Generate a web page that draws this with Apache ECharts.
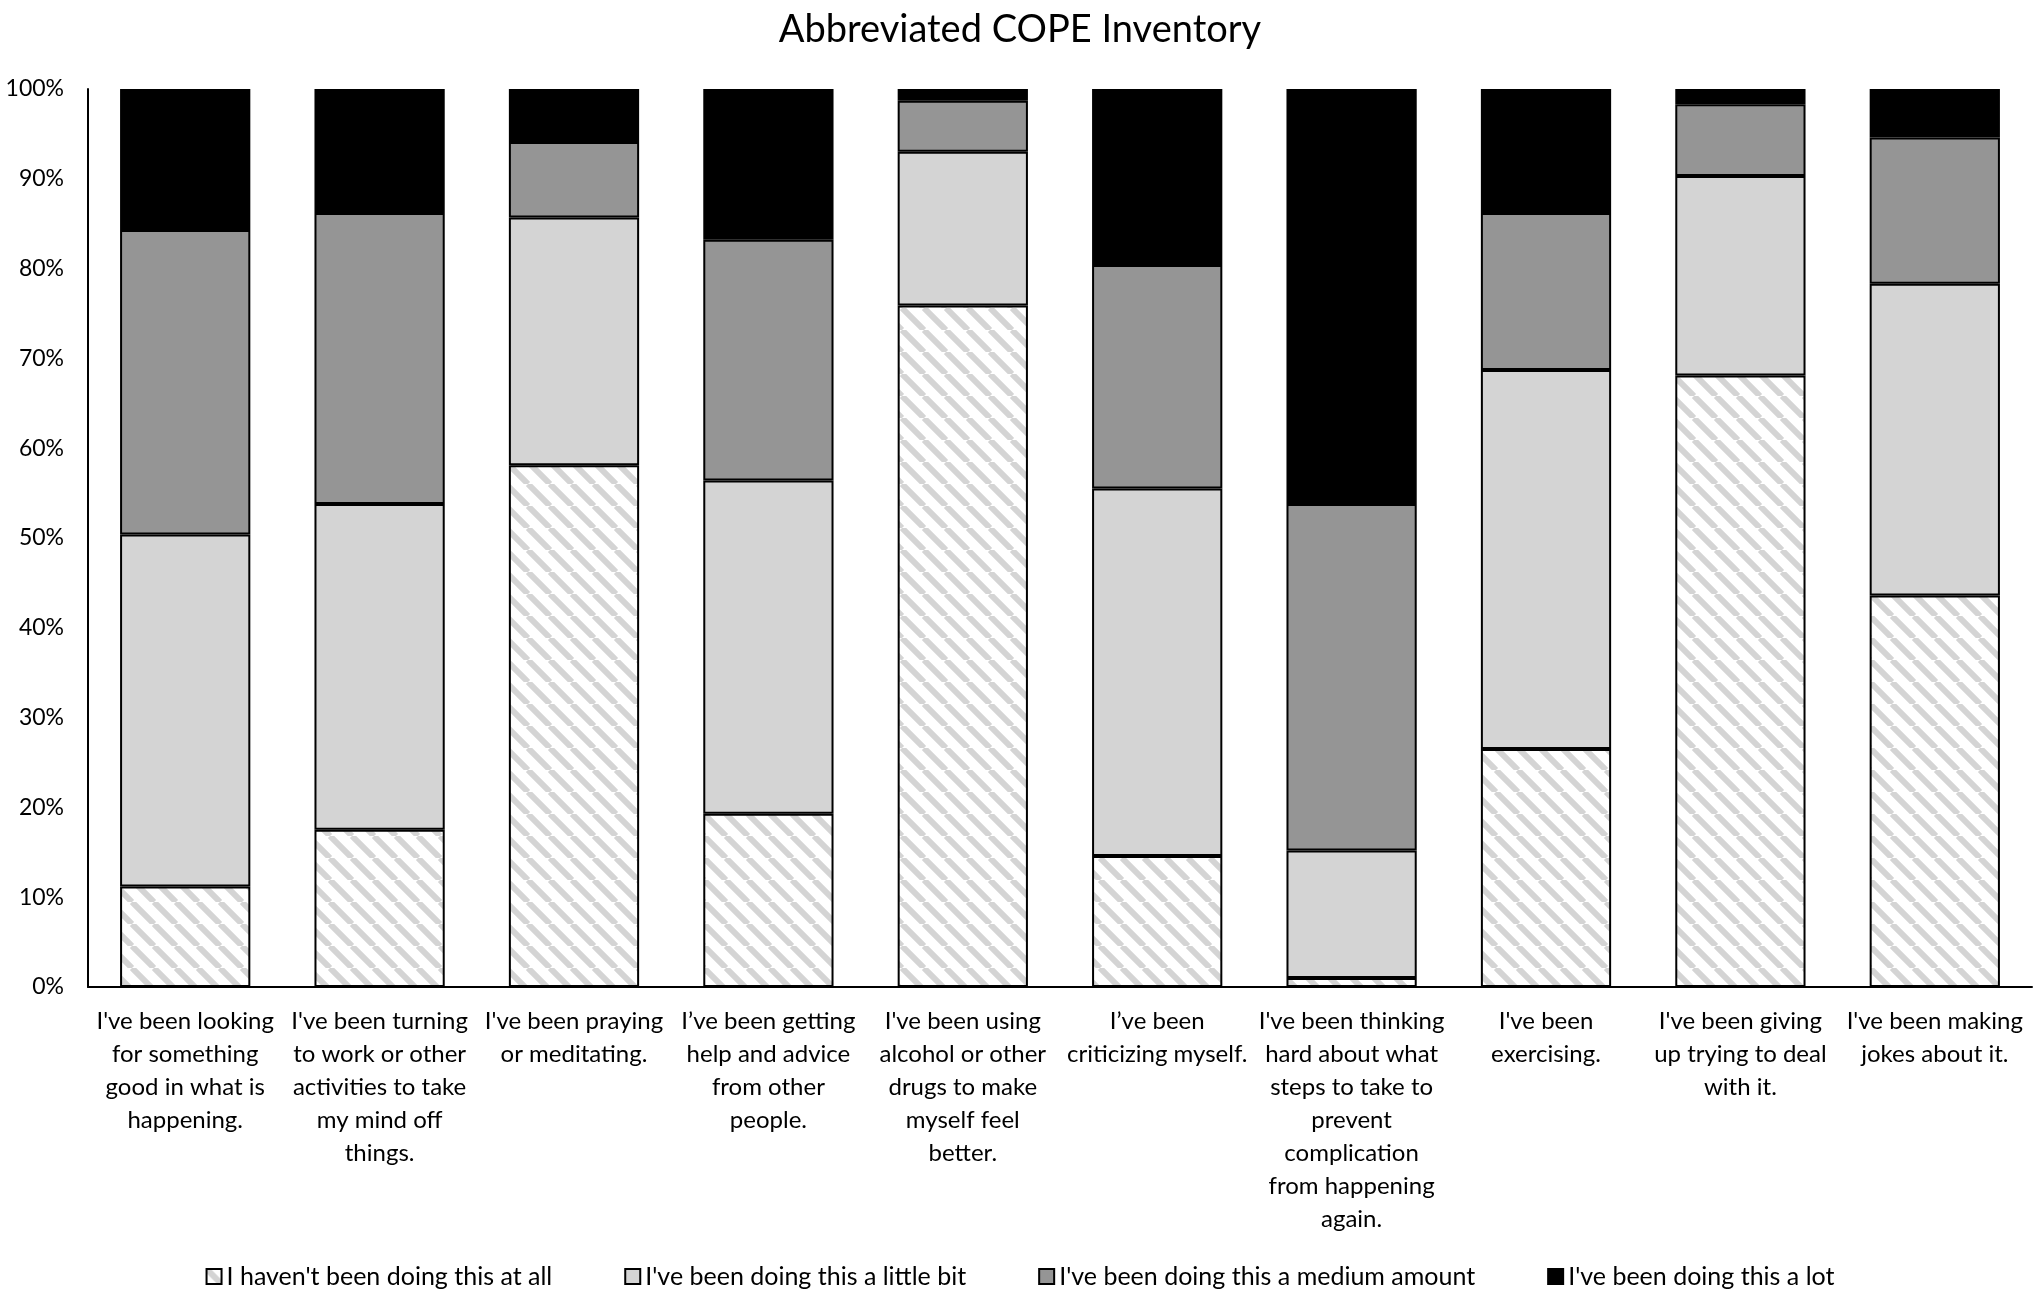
<!DOCTYPE html>
<html>
<head>
<meta charset="utf-8">
<script src="https://cdn.jsdelivr.net/npm/echarts@6/dist/echarts.min.js"></script>
<style>
  html, body { margin: 0; padding: 0; background: #fff; }
  #chart { width: 2040px; height: 1296px; }
</style>
</head>
<body>
<div id="chart"></div>
<script>
// categories (x labels, wrapped like the original)
const categories = [
  "I've been looking\nfor something\ngood in what is\nhappening.",
  "I've been turning\nto work or other\nactivities to take\nmy mind off\nthings.",
  "I've been praying\nor meditating.",
  "I’ve been getting\nhelp and advice\nfrom other\npeople.",
  "I've been using\nalcohol or other\ndrugs to make\nmyself feel\nbetter.",
  "I’ve been\ncriticizing myself.",
  "I've been thinking\nhard about what\nsteps to take to\nprevent\ncomplication\nfrom happening\nagain.",
  "I've been\nexercising.",
  "I've been giving\nup trying to deal\nwith it.",
  "I've been making\njokes about it."
];

const seriesNames = [
  "I haven't been doing this at all",
  "I've been doing this a little bit",
  "I've been doing this a medium amount",
  "I've been doing this a lot"
];

// percentages
const notAtAll   = [11.2, 17.5, 58.1, 19.3, 75.9, 14.6,  1.0, 26.5, 68.1, 43.6];
const littleBit  = [39.2, 36.3, 27.6, 37.1, 17.1, 40.9, 14.2, 42.2, 22.2, 34.7];
const mediumAmt  = [33.9, 32.4,  8.4, 26.8,  5.7, 24.9, 38.6, 17.5,  8.0, 16.3];
const aLot       = [15.7, 13.8,  5.9, 16.8,  1.3, 19.6, 46.2, 13.8,  1.7,  5.4];

const yTicks = [0, 10, 20, 30, 40, 50, 60, 70, 80, 90, 100];

// diagonal hatch for the first series
function makeHatch() {
  const n = 22;
  const c = document.createElement('canvas');
  c.width = n; c.height = n;
  const ctx = c.getContext('2d');
  ctx.fillStyle = '#ffffff';
  ctx.fillRect(0, 0, n, n);
  ctx.strokeStyle = '#d4d4d4';
  ctx.lineWidth = 6;
  ctx.beginPath();
  for (let k = -n; k <= n; k += n) {
    ctx.moveTo(k, 0);
    ctx.lineTo(k + n, n);
  }
  ctx.stroke();
  return c;
}

const fills = [
  { image: makeHatch(), repeat: 'repeat' },
  '#d4d4d4',
  '#959595',
  '#000000'
];
const values = [notAtAll, littleBit, mediumAmt, aLot];

const font = 'Lato, "Open Sans", sans-serif';

const chart = echarts.init(document.getElementById('chart'));

const series = seriesNames.map((name, i) => ({
  name: name,
  type: 'bar',
  stack: 'total',
  barWidth: '67%',
  itemStyle: {
    color: fills[i],
    borderColor: '#000',
    borderWidth: 2
  },
  emphasis: { disabled: true },
  data: values[i]
}));

chart.setOption({
  animation: false,
  backgroundColor: '#fff',
  title: {
    text: 'Abbreviated COPE Inventory',
    left: 'center',
    top: 6,
    textStyle: { fontFamily: font, fontSize: 38, fontWeight: 'normal', color: '#000' }
  },
  grid: { left: 88, right: 8, top: 89, bottom: 309 },
  legend: {
    bottom: 2,
    left: 'center',
    itemWidth: 15,
    itemHeight: 15,
    itemGap: 72,
    icon: 'rect',
    textStyle: { fontFamily: font, fontSize: 25, color: '#000' },
    data: seriesNames
  },
  xAxis: {
    type: 'category',
    data: categories,
    axisLine: { lineStyle: { color: '#000', width: 2 } },
    axisTick: { show: false },
    axisLabel: {
      interval: 0,
      color: '#000',
      fontFamily: font,
      fontSize: 24,
      lineHeight: 33,
      margin: 18,
      align: 'center'
    }
  },
  yAxis: {
    type: 'value',
    min: yTicks[0],
    max: yTicks[yTicks.length - 1],
    interval: 10,
    axisLine: { show: true, lineStyle: { color: '#000', width: 2 } },
    axisTick: { show: false },
    splitLine: { show: false },
    axisLabel: {
      color: '#000',
      fontFamily: font,
      fontSize: 23,
      margin: 24,
      formatter: v => v + '%'
    }
  },
  series: series
});
</script>
</body>
</html>
